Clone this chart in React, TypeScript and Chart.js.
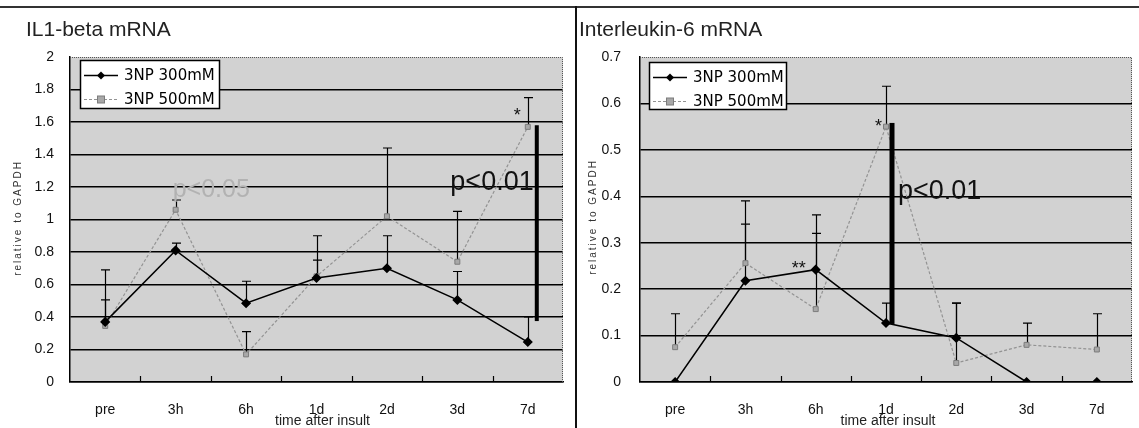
import React, { useEffect, useRef } from "react";
import { Chart, registerables } from "chart.js";

Chart.register(...registerables);

// ---------- data ----------
const CATEGORIES = ["pre", "3h", "6h", "1d", "2d", "3d", "7d"];
const SERIES_NAMES = ["3NP 300mM", "3NP 500mM"];

const IL1_300 = [0.37, 0.81, 0.485, 0.64, 0.7, 0.505, 0.246];
const IL1_300_ERR = [0.69, 0.855, 0.62, 0.75, 0.9, 0.68, 0.4];
const IL1_500 = [0.345, 1.06, 0.17, 0.65, 1.02, 0.74, 1.57];
const IL1_500_ERR = [0.505, 1.12, 0.31, 0.9, 1.44, 1.05, 1.75];
const IL1_Y_TICKS = ["0", "0.2", "0.4", "0.6", "0.8", "1", "1.2", "1.4", "1.6", "1.8", "2"];

const IL6_300 = [0, 0.218, 0.242, 0.127, 0.095, 0, 0];
const IL6_300_ERR = [null, 0.39, 0.36, 0.17, 0.17, null, null];
const IL6_500 = [0.075, 0.256, 0.157, 0.55, 0.041, 0.08, 0.07];
const IL6_500_ERR = [0.147, 0.34, 0.32, 0.637, 0.17, 0.127, 0.147];
const IL6_Y_TICKS = ["0", "0.1", "0.2", "0.3", "0.4", "0.5", "0.6", "0.7"];

// ---------- styling ----------
const FONT = "'Liberation Sans', Arial, sans-serif";
const LEGEND_FONT = "'DejaVu Sans', 'Liberation Sans', sans-serif";
const PLOT_BG = "#d2d2d2";
const C300 = "#000000";
const C500 = "#939393";

type Note = { text: string; cat: number; dx: number; value: number; color: string; size: number };
type Panel = {
  title: string;
  s300: (number | null)[];
  e300: (number | null)[];
  s500: (number | null)[];
  e500: (number | null)[];
  yMax: number;
  yStep: number;
  yTicks: string[];
  canvasWidth: number;
  yWidth: number;
  padRight: number;
  yLabelPad: number;
  titleX: number;
  yTitleX: number;
  yTitleY: number;
  xTitleDx: number;
  legend: { x: number; y: number; w: number; h: number };
  notes: Note[];
  bar: { cat: number; dx: number; from: number; to: number; width: number };
};

const LEFT_PANEL: Panel = {
  title: "IL1-beta mRNA",
  s300: IL1_300,
  e300: IL1_300_ERR,
  s500: IL1_500,
  e500: IL1_500_ERR,
  yMax: 2,
  yStep: 0.2,
  yTicks: IL1_Y_TICKS,
  canvasWidth: 575,
  yWidth: 70,
  padRight: 12,
  yLabelPad: 16,
  titleX: 26,
  yTitleX: 18,
  yTitleY: 218,
  xTitleDx: 6,
  legend: { x: 80, y: 60, w: 140, h: 49 },
  notes: [
    { text: "p<0.05", cat: 1, dx: -3, value: 1.18, color: "#b2b2b2", size: 25 },
    { text: "p<0.01", cat: 5, dx: -7, value: 1.225, color: "#111111", size: 27 },
    { text: "*", cat: 6, dx: -14, value: 1.634, color: "#111111", size: 18 },
  ],
  bar: { cat: 6, dx: 9, from: 0.375, to: 1.58, width: 4 },
};

const RIGHT_PANEL: Panel = {
  title: "Interleukin-6 mRNA",
  s300: IL6_300,
  e300: IL6_300_ERR,
  s500: IL6_500,
  e500: IL6_500_ERR,
  yMax: 0.7,
  yStep: 0.1,
  yTicks: IL6_Y_TICKS,
  canvasWidth: 562,
  yWidth: 63,
  padRight: 7,
  yLabelPad: 19,
  titleX: 2,
  yTitleX: 16,
  yTitleY: 217,
  xTitleDx: 2,
  legend: { x: 72, y: 62, w: 138, h: 48 },
  notes: [
    { text: "*", cat: 3, dx: -11, value: 0.55, color: "#111111", size: 18 },
    { text: "**", cat: 2, dx: -24, value: 0.243, color: "#111111", size: 18 },
    { text: "p<0.01", cat: 3, dx: 12, value: 0.41, color: "#111111", size: 27 },
  ],
  bar: { cat: 3, dx: 6, from: 0.125, to: 0.558, width: 5 },
};

function drawMarker(ctx: CanvasRenderingContext2D, kind: number, x: number, y: number) {
  ctx.save();
  if (kind === 0) {
    ctx.fillStyle = C300;
    ctx.beginPath();
    ctx.moveTo(x, y - 4);
    ctx.lineTo(x + 4, y);
    ctx.lineTo(x, y + 4);
    ctx.lineTo(x - 4, y);
    ctx.closePath();
    ctx.fill();
  } else {
    ctx.fillStyle = "#a8a8a8";
    ctx.strokeStyle = "#7c7c7c";
    ctx.lineWidth = 1;
    ctx.fillRect(x - 3.5, y - 3.5, 7, 7);
    ctx.strokeRect(x - 3.5, y - 3.5, 7, 7);
  }
  ctx.restore();
}

function makePlugin(p: Panel) {
  return {
    id: "panelDecor",
    beforeDraw(chart: any) {
      const { ctx, chartArea: a } = chart;
      ctx.save();
      ctx.fillStyle = "#ffffff";
      ctx.fillRect(0, 0, chart.width, chart.height);
      ctx.fillStyle = PLOT_BG;
      ctx.fillRect(a.left, a.top, a.right - a.left, a.bottom - a.top);
      ctx.restore();
    },
    beforeDatasetsDraw(chart: any) {
      const { ctx } = chart;
      const xs = chart.scales.x;
      const ys = chart.scales.y;
      ctx.save();
      ctx.strokeStyle = "#000";
      ctx.lineWidth = 1.2;
      const sets: [(number | null)[], (number | null)[]][] = [
        [p.s300, p.e300],
        [p.s500, p.e500],
      ];
      for (const [vals, errs] of sets) {
        for (let i = 0; i < vals.length; i++) {
          const v = vals[i];
          const e = errs[i];
          if (v == null || e == null) continue;
          const x = Math.round(xs.getPixelForValue(i)) + 0.5;
          const y0 = ys.getPixelForValue(v);
          const y1 = ys.getPixelForValue(e);
          ctx.beginPath();
          ctx.moveTo(x, y0);
          ctx.lineTo(x, y1);
          ctx.moveTo(x - 4.5, y1);
          ctx.lineTo(x + 4.5, y1);
          ctx.stroke();
        }
      }
      ctx.restore();
    },
    afterDraw(chart: any) {
      const { ctx, chartArea: a } = chart;
      const xs = chart.scales.x;
      const ys = chart.scales.y;
      ctx.save();

      // top & right plot edges (speckled look)
      ctx.strokeStyle = "#555";
      ctx.lineWidth = 1;
      ctx.setLineDash([1, 1]);
      ctx.beginPath();
      ctx.moveTo(a.left, a.top + 0.5);
      ctx.lineTo(a.right - 0.5, a.top + 0.5);
      ctx.lineTo(a.right - 0.5, a.bottom);
      ctx.stroke();
      ctx.setLineDash([]);

      // inner tick marks at category boundaries
      ctx.strokeStyle = "#000";
      ctx.lineWidth = 1.2;
      for (let i = 1; i < CATEGORIES.length; i++) {
        const x = Math.round((xs.getPixelForValue(i - 1) + xs.getPixelForValue(i)) / 2) + 0.5;
        ctx.beginPath();
        ctx.moveTo(x, a.bottom);
        ctx.lineTo(x, a.bottom - 6);
        ctx.stroke();
      }

      // thick significance bar
      const bx = xs.getPixelForValue(p.bar.cat) + p.bar.dx;
      const by0 = ys.getPixelForValue(p.bar.from);
      const by1 = ys.getPixelForValue(p.bar.to);
      ctx.fillStyle = "#000";
      ctx.fillRect(bx - p.bar.width / 2, by1, p.bar.width, by0 - by1);

      // notes
      ctx.textBaseline = "middle";
      ctx.textAlign = "left";
      for (const n of p.notes) {
        ctx.font = `${n.size}px ${FONT}`;
        ctx.fillStyle = n.color;
        ctx.fillText(n.text, xs.getPixelForValue(n.cat) + n.dx, ys.getPixelForValue(n.value));
      }

      // legend
      const L = p.legend;
      ctx.fillStyle = "#fff";
      ctx.fillRect(L.x, L.y, L.w, L.h);
      ctx.strokeStyle = "#000";
      ctx.lineWidth = 1.5;
      ctx.strokeRect(L.x + 0.5, L.y + 0.5, L.w - 1, L.h - 1);
      SERIES_NAMES.forEach((name, k) => {
        const ry = L.y + 15 + k * 24;
        ctx.save();
        ctx.strokeStyle = k === 0 ? C300 : C500;
        ctx.lineWidth = k === 0 ? 1.5 : 1.2;
        if (k === 1) ctx.setLineDash([3, 2]);
        ctx.beginPath();
        ctx.moveTo(L.x + 4, ry + 0.5);
        ctx.lineTo(L.x + 38, ry + 0.5);
        ctx.stroke();
        ctx.restore();
        drawMarker(ctx, k, L.x + 21, ry + 0.5);
        ctx.fillStyle = "#000";
        ctx.font = `15px ${LEGEND_FONT}`;
        ctx.textAlign = "left";
        ctx.textBaseline = "middle";
        ctx.fillText(name, L.x + 44, ry + 1);
      });

      // chart title
      ctx.fillStyle = "#222";
      ctx.font = `21px ${FONT}`;
      ctx.textAlign = "left";
      ctx.textBaseline = "middle";
      ctx.fillText(p.title, p.titleX, 30);

      // x title
      ctx.font = `14px ${FONT}`;
      ctx.textAlign = "center";
      ctx.fillStyle = "#222";
      ctx.fillText("time after insult", (a.left + a.right) / 2 + p.xTitleDx, 421);

      // y title
      ctx.save();
      ctx.translate(p.yTitleX, p.yTitleY);
      ctx.rotate(-Math.PI / 2);
      ctx.font = `10px ${FONT}`;
      try {
        (ctx as any).letterSpacing = "2px";
      } catch (e) {}
      ctx.fillStyle = "#333";
      ctx.textAlign = "center";
      ctx.fillText("relative to GAPDH", 0, 0);
      ctx.restore();

      ctx.restore();
    },
  };
}

function PanelChart({ p, left }: { p: Panel; left: number }) {
  const ref = useRef<HTMLCanvasElement>(null);
  useEffect(() => {
    const canvas = ref.current!;
    const chart = new Chart(canvas, {
      type: "line",
      data: {
        labels: CATEGORIES,
        datasets: [
          {
            label: SERIES_NAMES[0],
            data: p.s300,
            borderColor: C300,
            borderWidth: 1.5,
            pointStyle: "rectRot",
            pointRadius: 4,
            pointBackgroundColor: C300,
            pointBorderColor: C300,
            tension: 0,
          },
          {
            label: SERIES_NAMES[1],
            data: p.s500,
            borderColor: C500,
            borderWidth: 1.2,
            borderDash: [3, 2],
            pointStyle: "rect",
            pointRadius: 3.5,
            pointBackgroundColor: "#a8a8a8",
            pointBorderColor: "#7c7c7c",
            pointBorderWidth: 1,
            tension: 0,
          },
        ],
      },
      options: {
        responsive: false,
        animation: false,
        devicePixelRatio: 1,
        layout: { padding: { left: 0, right: p.padRight, top: 57, bottom: 0 } },
        plugins: {
          legend: { display: false },
          title: { display: false },
          tooltip: { enabled: false },
        },
        scales: {
          x: {
            offset: true,
            grid: { display: false, drawTicks: false },
            border: { display: true, color: "#000", width: 1.5 },
            ticks: {
              color: "#111",
              font: { family: FONT, size: 14 },
              padding: 20,
              maxRotation: 0,
              autoSkip: false,
            },
            afterFit: (s: any) => {
              s.height = 46;
            },
          },
          y: {
            min: 0,
            max: p.yMax,
            border: { display: true, color: "#000", width: 1.5 },
            grid: {
              drawTicks: false,
              lineWidth: 1.5,
              color: (c: any) =>
                c.tick && c.tick.value >= p.yMax - 1e-9 ? "rgba(0,0,0,0)" : "#000",
            },
            ticks: {
              stepSize: p.yStep,
              padding: p.yLabelPad,
              color: "#111",
              font: { family: FONT, size: 14 },
              callback: (_v: any, i: number) => p.yTicks[i],
            },
            afterFit: (s: any) => {
              s.width = p.yWidth;
            },
          },
        },
      } as any,
      plugins: [makePlugin(p)],
    });
    return () => chart.destroy();
  }, []);
  return (
    <canvas
      ref={ref}
      width={p.canvasWidth}
      height={428}
      style={{ position: "absolute", left, top: 0, width: p.canvasWidth, height: 428 }}
    />
  );
}

export default function App() {
  return (
    <div
      style={{
        position: "absolute",
        left: 0,
        top: 0,
        width: 1139,
        height: 428,
        background: "#fff",
        overflow: "hidden",
      }}
    >
      <PanelChart p={LEFT_PANEL} left={0} />
      <PanelChart p={RIGHT_PANEL} left={577} />
      <div style={{ position: "absolute", left: 0, top: 6, width: 1139, height: 2, background: "#333" }} />
      <div style={{ position: "absolute", left: 575, top: 6, width: 2, height: 422, background: "#111" }} />
    </div>
  );
}
